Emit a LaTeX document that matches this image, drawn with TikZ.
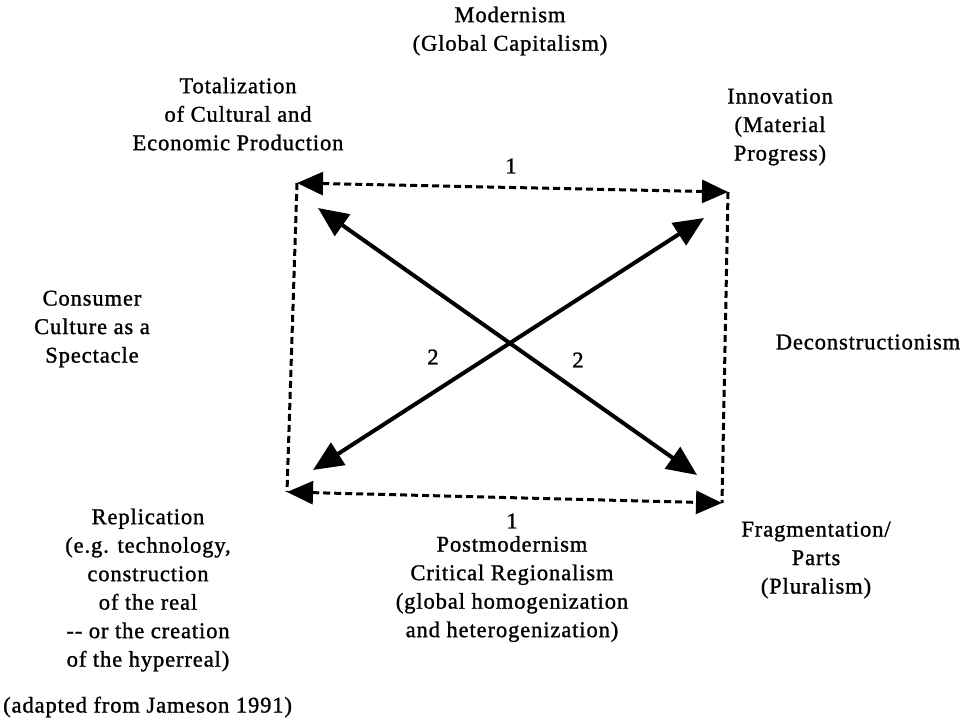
\documentclass[tikz,border=0pt]{standalone}
\usepackage{fontspec}
\setmainfont[LetterSpace=4,FakeBold=1.2]{Liberation Serif}
\usetikzlibrary{arrows.meta}
\begin{document}
\begin{tikzpicture}[x=1pt,y=-1pt,
  lbl/.style={align=center,inner sep=0pt,font=\fontsize{22.5}{28.5}\selectfont},
  dashline/.style={line width=3pt,dash pattern=on 7pt off 4pt},
  dasharrow/.style={dashline,{Triangle[length=26pt,width=23pt]}-{Triangle[length=26pt,width=23pt]}},
  diag/.style={line width=4pt,{Triangle[length=30pt,width=26pt]}-{Triangle[length=30pt,width=26pt]}}]
\useasboundingbox (0,0) rectangle (968,723);
\coordinate (tl) at (297,183);
\coordinate (tr) at (728,192);
\coordinate (bl) at (287,492);
\coordinate (br) at (722,503);
\coordinate (d1a) at (318,208);
\coordinate (d1b) at (697,475);
\coordinate (d2a) at (313,470);
\coordinate (d2b) at (704,218);
\draw[dasharrow] (tl) -- (tr);
\draw[dasharrow] (bl) -- (br);
\draw[dashline] (tl) -- (bl);
\draw[dashline] (tr) -- (br);
\draw[diag] (d1a) -- (d1b);
\draw[diag] (d2a) -- (d2b);
\node[lbl] (mod) at (510,31) {Modernism\\(Global Capitalism)};
\node[lbl] (tot) at (238,114) {Totalization\\of Cultural and\\Economic Production};
\node[lbl] (inn) at (780,127) {Innovation\\(Material\\Progress)};
\node[lbl] (one1) at (511,166) {1};
\node[lbl] (con) at (92,329) {Consumer\\Culture as a\\Spectacle};
\node[lbl] (twoa) at (433,357) {2};
\node[lbl] (twob) at (578,360) {2};
\node[lbl] (dec) at (868,342) {Deconstructionism};
\node[lbl] (rep) at (148,590) {Replication\\(e.g. technology,\\construction\\of the real\\-{}- or the creation\\of the hyperreal)};
\node[lbl] (one2) at (512,521) {1};
\node[lbl] (post) at (512,589) {Postmodernism\\Critical Regionalism\\(global homogenization\\and heterogenization)};
\node[lbl] (frag) at (816,560) {Fragmentation/\\Parts\\(Pluralism)};
\node[lbl,anchor=west] (adp) at (3,707) {(adapted from Jameson 1991)};
\end{tikzpicture}
\end{document}
